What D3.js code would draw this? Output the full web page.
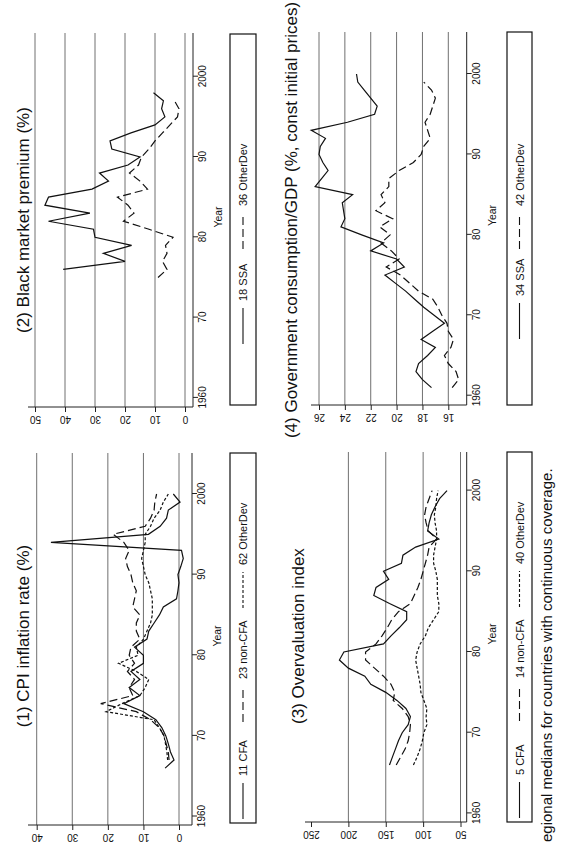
<!DOCTYPE html>
<html lang="en">
<head>
<meta charset="utf-8">
<title>Regional medians, four panels</title>
<script src="https://d3js.org/d3.v7.min.js"></script>
<style>
  body { margin: 0; background: #fff; }
  svg text { font-family: "Liberation Sans", Arial, Helvetica, sans-serif; fill: #111; }
</style>
</head>
<body>
<div id="chart"></div>
<script>
// ---- data -----------------------------------------------------------------

// (1) CPI inflation rate (%)
var cpiYears = [1966, 1967, 1968, 1969, 1970, 1971, 1972, 1973, 1974, 1975, 1976, 1977,
                1978, 1979, 1980, 1981, 1982, 1983, 1984, 1985, 1986, 1987, 1988, 1989,
                1990, 1991, 1992, 1993, 1994, 1995, 1996, 1997, 1998, 1999, 2000];
var cpiCFA = [3.9, 1.4, 2.4, 3.0, 3.7, 4.8, 6.5, 10.0, 15.5, 11.0, 14.0, 11.0,
              13.5, 10.0, 10.0, 12.5, 9.0, 8.5, 7.0, 5.5, 4.4, 0.7, 0.3, 0.0,
              0.3, -0.5, -1.2, -0.7, 36.0, 8.6, 5.3, 3.5, 3.0, -0.3, 1.6];
var cpiNonCFA = [null, 2.8, 3.0, 3.6, 4.2, 5.5, 8.0, 12.0, 22.0, 13.0, 14.0, 12.5,
                 14.5, 12.5, 14.0, 13.5, 11.0, 12.0, 12.0, 11.0, 13.0, 12.5, 12.0, 13.0,
                 13.5, 14.5, 15.0, 14.0, 15.5, 18.5, 9.5, 8.0, 7.0, 6.8, 6.3];
var cpiOtherDev = [null, 3.2, 3.4, 3.8, 4.2, 5.5, 7.0, 20.5, 16.0, 11.0, 9.5, 8.5,
                   12.0, 17.0, 11.5, 12.0, 10.0, 9.0, 8.0, 7.5, 7.5, 7.5, 8.0, 8.5,
                   9.5, 10.0, 10.5, 10.0, 9.5, 9.5, 8.0, 7.0, 5.3, 4.4, 3.0];
var cpiTicks = [0, 10, 20, 30, 40];

// (2) Black market premium (%)
var bmpYears = [1975, 1976, 1977, 1978, 1979, 1980, 1981, 1982, 1983, 1984, 1985, 1986,
                1987, 1988, 1989, 1990, 1991, 1992, 1993, 1994, 1995, 1996, 1997, 1998];
var bmpSSA = [null, 40.6, 20.0, 27.2, 17.8, 30.0, 30.5, 45.5, 31.7, 46.7, 45.5, 31.0,
              25.5, 28.5, 19.0, 15.0, 24.4, 25.0, 18.0, 10.0, 6.7, 7.8, 7.2, 10.5];
var bmpOtherDev = [9.0, 6.0, 7.5, 6.0, 6.5, 4.0, 12.0, 20.5, 17.0, 19.0, 22.5, 12.5,
                   15.0, 18.5, 15.5, 14.5, 12.0, 10.0, 7.5, 5.0, 2.5, 2.0, 3.5, null];
var bmpTicks = [0, 10, 20, 30, 40, 50];

// (3) Overvaluation index
var ovYears = [1966, 1967, 1968, 1969, 1970, 1971, 1972, 1973, 1974, 1975, 1976, 1977,
               1978, 1979, 1980, 1981, 1982, 1983, 1984, 1985, 1986, 1987, 1988, 1989,
               1990, 1991, 1992, 1993, 1994, 1995, 1996, 1997, 1998, 1999, 2000];
var ovCFA = [145, 141, 137, 133, 128, 120, 117, 123, 135, 150, 170, 178,
             200, 212, 206, 153, 143, 132, 122, 122, 145, 166, 163, 146,
             153, 129, 127, 110, 79, 94, 92, 89, 84, 78, 68];
var ovNonCFA = [136, 130, 124, 120, 118, 117, 120, 128, 140, 138, 143, 153,
                165, 177, 177, 163, 155, 148, 142, 133, 117, 112, 107, 103,
                100, 97, 94, 92, 82, 93, 96, 98, 96, 92, 88];
var ovOtherDev = [113, 108, 104, 101, 99, 95, 96, 95, 99, 103, 104, 106,
                  108, 110, 108, 104, 97, 93, 86, 79, 79, 81, 81, 81,
                  83, 86, 86, 84, 82, 82, 84, 85, 83, 82, 80];
var ovTicks = [50, 100, 150, 200, 250];
var ovGrid = [50, 100, 150, 200];

// (4) Government consumption/GDP
var gcYears = [1961, 1962, 1963, 1964, 1965, 1966, 1967, 1968, 1969, 1970,
               1971, 1972, 1973, 1974, 1975, 1976, 1977, 1978, 1979, 1980,
               1981, 1982, 1983, 1984, 1985, 1986, 1987, 1988, 1989, 1990,
               1991, 1992, 1993, 1994, 1995, 1996, 1997, 1998, 1999, 2000];
var gcSSA = [17.3, 18.0, 18.5, 18.3, 17.6, 17.0, 18.1, 17.2, 16.3, 17.1,
             17.9, 18.6, 19.3, 20.1, 20.9, 19.4, 20.0, 22.0, 21.0, 22.7,
             24.3, 24.0, 24.1, 24.2, 23.4, 26.3, 25.8, 25.3, 25.7, 26.0,
             25.9, 25.5, 26.6, 23.8, 21.7, 21.5, 22.0, 22.5, 23.0, 23.1];
var gcOtherDev = [15.7, 15.2, 15.4, 16.0, 16.3, 15.8, 15.6, 16.0, 16.1, 16.5,
                  16.8, 17.2, 18.3, 19.0, 19.7, 20.8, 19.8, 20.4, 21.2, 20.5,
                  21.3, 20.3, 21.6, 20.9, 21.2, 20.6, 20.6, 19.8, 18.7, 18.1,
                  17.9, 17.4, 17.6, 17.8, 17.4, 17.2, 17.0, 17.3, 17.9, null];
var gcTicks = [16, 18, 20, 22, 24, 26];

var yearTicks = [1960, 1970, 1980, 1990, 2000];
var yearLabels = ["1960", "70", "80", "90", "2000"];
var footnote = "egional medians for countries with continuous coverage.";

// ---- layout (page is printed sideways, so we draw it unrotated and turn it) ----
var SOLID = null, LONG = "8,4", SHORT = "3,2";

var panels = [
  { title: "(1) CPI inflation rate (%)", years: cpiYears, ticks: cpiTicks, grid: cpiTicks,
    series: [["11 CFA", cpiCFA, SOLID], ["23 non-CFA", cpiNonCFA, LONG], ["62 OtherDev", cpiOtherDev, SHORT]],
    xr: [26.5, 349], yd: [0, 40], yr: [179, 36.7],
    axisX: 18, axisY: 192, top: 28, right: 390,
    legend: [20, 230, 370, 26], keys: [4, 101, 215], titleX: 207, titleY: 29 },
  { title: "(2) Black market premium (%)", years: bmpYears, ticks: bmpTicks, grid: bmpTicks,
    series: [["18 SSA", bmpSSA, SOLID], ["36 OtherDev", bmpOtherDev, LONG]],
    xr: [445.1, 766.3], yd: [0, 50], yr: [185, 35],
    axisX: 436, axisY: 193, top: 28, right: 810,
    legend: [438, 230, 371, 26], keys: [61, 156], titleX: 623, titleY: 29 },
  { title: "(3) Overvaluation index", years: ovYears, ticks: ovTicks, grid: ovGrid,
    series: [["5 CFA", ovCFA, SOLID], ["14 non-CFA", ovNonCFA, LONG], ["40 OtherDev", ovOtherDev, SHORT]],
    xr: [29.6, 352.4], yd: [50, 250], yr: [460.5, 311],
    axisX: 21, axisY: 466.7, top: 305, right: 391,
    legend: [21, 507, 370, 25], keys: [4, 101, 215], titleX: 207, titleY: 304 },
  { title: "(4) Government consumption/GDP (%, const initial prices)", years: gcYears, ticks: gcTicks, grid: gcTicks,
    series: [["34 SSA", gcSSA, SOLID], ["42 OtherDev", gcOtherDev, LONG]],
    xr: [447.3, 769], yd: [16, 26], yr: [448.3, 319],
    axisX: 438, axisY: 466.7, top: 311, right: 811,
    legend: [438, 507, 373, 25], keys: [66, 156], titleX: 623, titleY: 297 }
];

var svg = d3.select("#chart").append("svg")
    .attr("width", 562)
    .attr("height", 843);
svg.append("rect").attr("width", 562).attr("height", 843).attr("fill", "#fff");

// original page is 843 wide and 562 high, turned a quarter counter-clockwise
var page = svg.append("g").attr("transform", "translate(0,843) rotate(-90)");

panels.forEach(function(p) {
  var x = d3.scaleLinear().domain([1960, 2000]).range(p.xr);
  var y = d3.scaleLinear().domain(p.yd).range(p.yr);
  var g = page.append("g");

  // grid lines
  g.append("g").selectAll("line")
    .data(p.grid)
    .enter().append("line")
      .attr("x1", p.axisX)
      .attr("x2", p.right)
      .attr("y1", function(d) { return y(d); })
      .attr("y2", function(d) { return y(d); })
      .attr("stroke", "#707070")
      .attr("stroke-width", 1);

  // year axis
  var xAxis = g.append("g")
    .attr("transform", "translate(0," + p.axisY + ")")
    .attr("font-family", "Liberation Sans, Arial, sans-serif")
    .attr("font-size", 10.5)
    .call(d3.axisBottom(x).tickValues(yearTicks)
      .tickFormat(function(d, i) { return yearLabels[i]; })
      .tickSize(5).tickSizeOuter(0).tickPadding(1));
  xAxis.select(".domain").remove();
  xAxis.selectAll("line").attr("stroke", "#222");
  g.append("line")
    .attr("x1", p.axisX).attr("x2", p.right)
    .attr("y1", p.axisY).attr("y2", p.axisY)
    .attr("stroke", "#222").attr("stroke-width", 1);
  g.append("text")
    .attr("x", (p.axisX + p.right) / 2 + 3)
    .attr("y", p.axisY + 25)
    .attr("text-anchor", "middle")
    .attr("dominant-baseline", "central")
    .style("font-size", "10.5px")
    .text("Year");

  // value axis, labels standing upright on the printed page
  var yAxis = g.append("g")
    .attr("transform", "translate(" + p.axisX + ",0)")
    .attr("font-family", "Liberation Sans, Arial, sans-serif")
    .attr("font-size", 10.5)
    .call(d3.axisLeft(y).tickValues(p.ticks).tickSize(5).tickSizeOuter(0));
  yAxis.select(".domain").remove();
  yAxis.selectAll("line").attr("stroke", "#222");
  yAxis.selectAll("text")
    .attr("x", null)
    .attr("dy", null)
    .attr("transform", "translate(-12,0) rotate(-90)")
    .attr("text-anchor", "middle")
    .attr("dominant-baseline", "central");
  g.append("line")
    .attr("x1", p.axisX).attr("x2", p.axisX)
    .attr("y1", p.top).attr("y2", p.axisY)
    .attr("stroke", "#222").attr("stroke-width", 1);

  // series
  var line = d3.line()
    .defined(function(d) { return d[1] != null; })
    .x(function(d) { return x(d[0]); })
    .y(function(d) { return y(d[1]); });

  p.series.forEach(function(s) {
    var pts = p.years.map(function(yr, i) { return [yr, s[1][i]]; });
    g.append("path")
      .datum(pts)
      .attr("d", line)
      .attr("fill", "none")
      .attr("stroke", "#111")
      .attr("stroke-width", 1.2)
      .attr("stroke-dasharray", s[2]);
  });

  // title
  g.append("text")
    .attr("x", p.titleX)
    .attr("y", p.titleY)
    .attr("text-anchor", "middle")
    .style("font-size", "17px")
    .text(p.title);

  // legend
  var lx = p.legend[0], ly = p.legend[1], lw = p.legend[2], lh = p.legend[3];
  g.append("rect")
    .attr("x", lx).attr("y", ly)
    .attr("width", lw).attr("height", lh)
    .attr("fill", "none")
    .attr("stroke", "#111")
    .attr("stroke-width", 1.2);
  p.series.forEach(function(s, i) {
    var kx = lx + p.keys[i];
    g.append("line")
      .attr("x1", kx).attr("x2", kx + 36)
      .attr("y1", ly + lh / 2).attr("y2", ly + lh / 2)
      .attr("stroke", "#111")
      .attr("stroke-width", 1.1)
      .attr("stroke-dasharray", s[2]);
    g.append("text")
      .attr("x", kx + 43)
      .attr("y", ly + lh / 2)
      .attr("dominant-baseline", "central")
      .style("font-size", "11px")
      .text(s[0]);
  });
});

// footnote, cut off at the page edge like the scan
page.append("text")
  .attr("x", 1)
  .attr("y", 552)
  .style("font-size", "15px")
  .text(footnote);
</script>
</body>
</html>
